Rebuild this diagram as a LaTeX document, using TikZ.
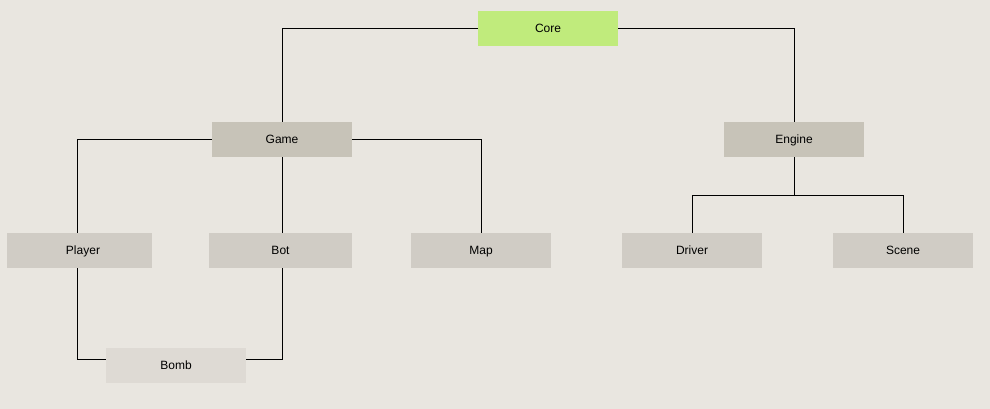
\documentclass[tikz,border=0pt]{standalone}
\usepackage{fontspec}
\setmainfont{Liberation Sans}
\usetikzlibrary{positioning}

\definecolor{bgcol}{HTML}{E9E6E0}
\definecolor{corecol}{HTML}{C0EB7C}
\definecolor{modcol}{HTML}{C7C3B8}
\definecolor{leafcol}{HTML}{D0CCC5}
\definecolor{bombcol}{HTML}{DEDAD4}

\begin{document}
\begin{tikzpicture}[x=1pt,y=-1pt,
  box/.style={inner sep=0pt,minimum width=140pt,minimum height=35pt,text height=10pt,text depth=1.5pt,font=\fontsize{12}{14}\selectfont},
  wire/.style={draw,line width=1pt,black}]
\fill[bgcol] (0,0) rectangle (990,409);
\useasboundingbox (0,0) rectangle (990,409);
\node[box,fill=corecol] (core) at (548,28.5) {Core};
\node[box,fill=modcol] (game) at (282,139.5) {Game};
\node[box,fill=modcol] (engine) at (794,139.5) {Engine};
\node[box,fill=leafcol,minimum width=145pt] (player) at (79.5,250.5) {\hspace*{7pt}Player};
\node[box,fill=leafcol,minimum width=143pt] (bot) at (280.5,250.5) {Bot};
\node[box,fill=leafcol] (map) at (481,250.5) {Map};
\node[box,fill=leafcol] (driver) at (692,250.5) {Driver};
\node[box,fill=leafcol] (scene) at (903,250.5) {Scene};
\node[box,fill=bombcol] (bomb) at (176,365.5) {Bomb};
\coordinate (fork) at (794,195);
\path[wire] (core.west) -| (game.north);
\path[wire] (core.east) -| (engine.north);
\path[wire] (game.west) -| ([xshift=-2pt]player.north);
\path[wire] (game.south) -- (game.south |- bot.north);
\path[wire] (game.east) -| (map.north);
\path[wire] (engine.south) -- (fork);
\path[wire] (driver.north) |- (scene.north |- fork) -- (scene.north);
\path[wire] ([xshift=-2pt]player.south) |- ([yshift=6.5pt]bomb.west);
\path[wire] (game.south |- bot.south) |- ([yshift=6.5pt]bomb.east);
\end{tikzpicture}
\end{document}
